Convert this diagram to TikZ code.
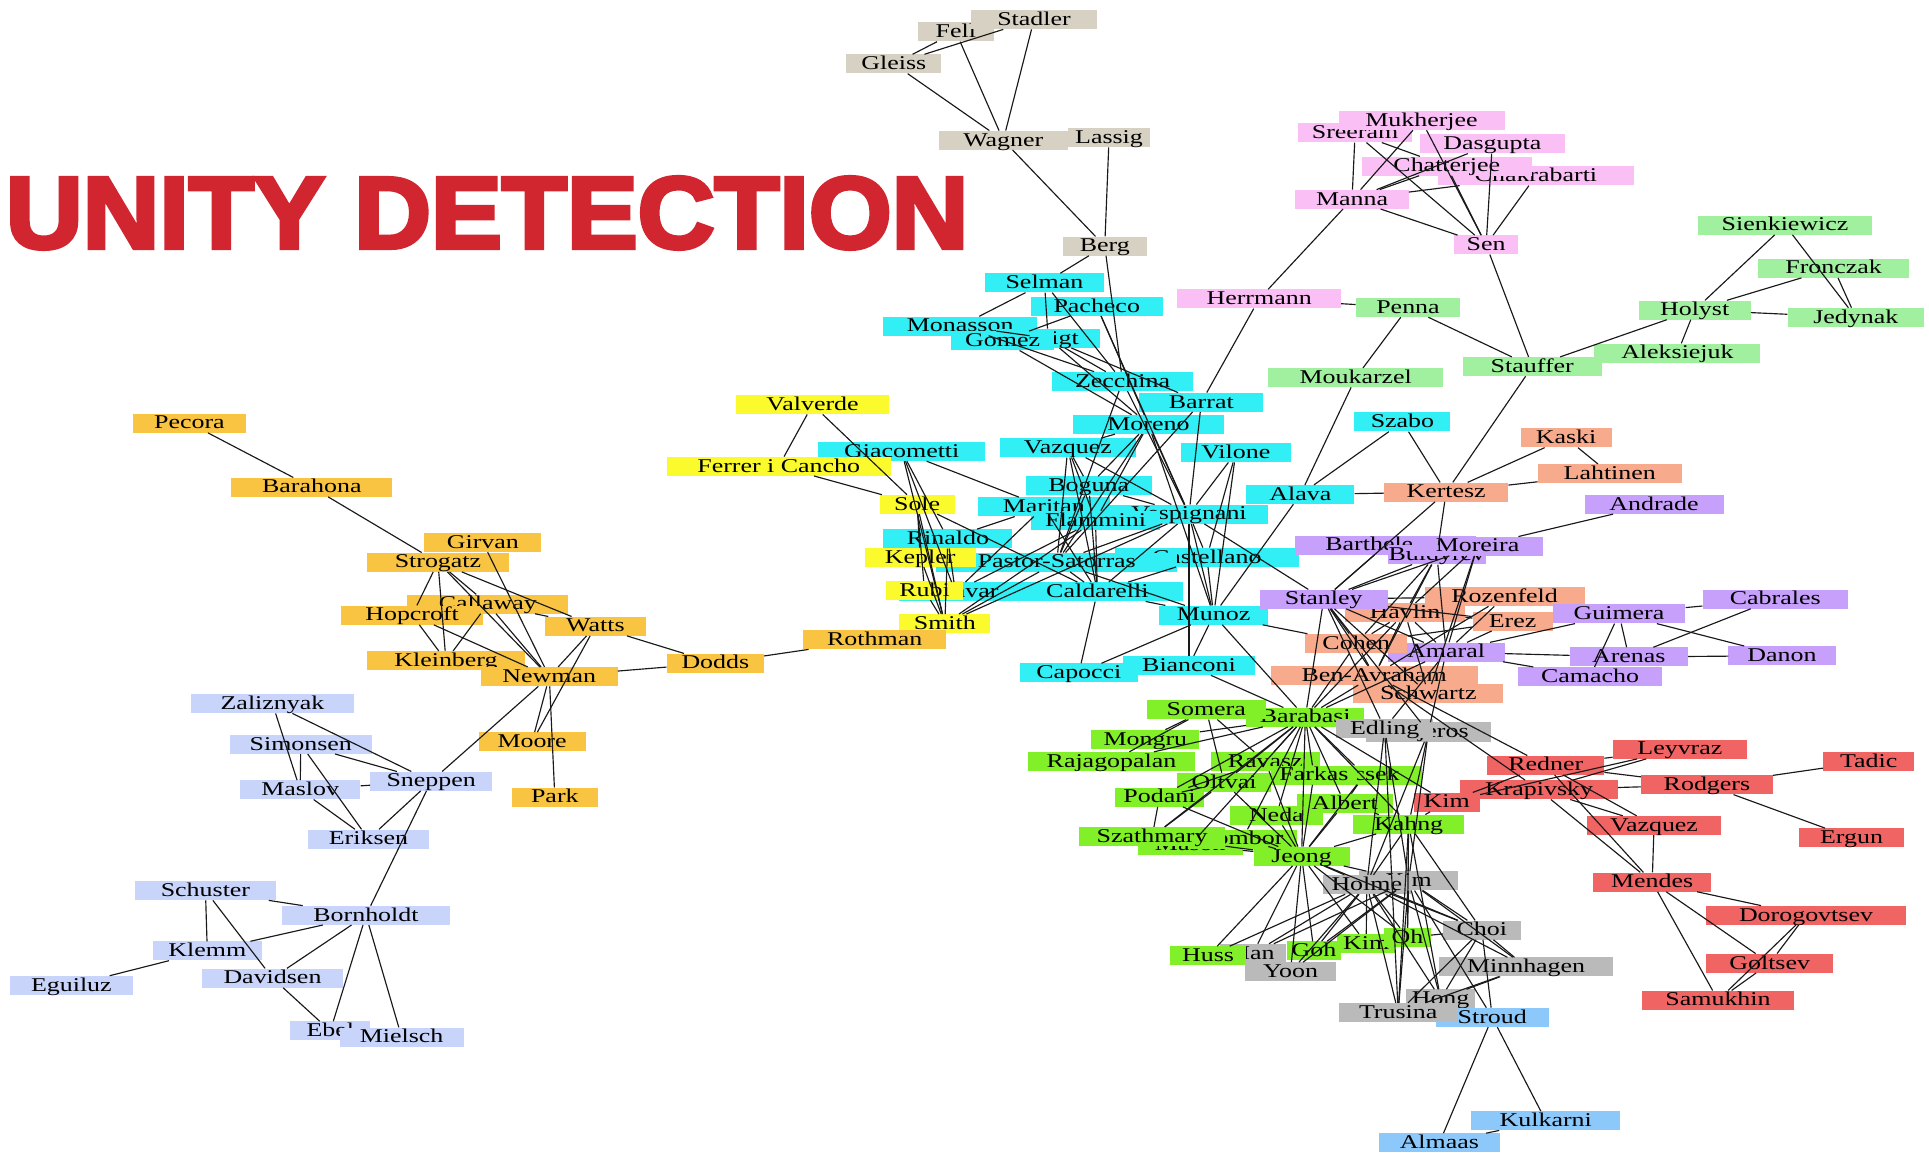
\documentclass[tikz,border=0pt]{standalone}
\usepackage{graphicx}
\usepackage{fontspec}
\setmainfont{Liberation Serif}[FakeStretch=1.33]
\newfontfamily\titlefont{Liberation Sans}[FakeBold=4]

% community colours
\definecolor{ctan}{RGB}{214,209,194}
\definecolor{cpink}{RGB}{250,192,245}
\definecolor{cmint}{RGB}{160,240,160}
\definecolor{ccyan}{RGB}{50,238,245}
\definecolor{cyel}{RGB}{250,250,45}
\definecolor{corange}{RGB}{248,196,66}
\definecolor{clav}{RGB}{200,212,250}
\definecolor{csalmon}{RGB}{248,170,140}
\definecolor{cpurple}{RGB}{198,160,250}
\definecolor{clime}{RGB}{130,240,40}
\definecolor{cgrey}{RGB}{186,186,186}
\definecolor{cblue}{RGB}{140,200,250}
\definecolor{cred}{RGB}{240,100,100}
\definecolor{titlered}{RGB}{209,38,48}

\tikzset{
  box/.style={rectangle, inner xsep=0pt, inner ysep=0.25pt, minimum height=19pt,
    text height=15pt, text depth=3.5pt, text=black,
    font=\fontsize{19.5pt}{20pt}\selectfont},
  edge/.style={draw=black!90, line width=1.15pt},
}

% \netnode{name}{colour}{left}{right}{y}{label}
\newcommand\netnode[6]{%
  \node[box, fill=#2, minimum width={(#4-#3)*1.2302pt}] (#1) at ({(#3+#4)/2},#5) {#6};}

\begin{document}
\begin{tikzpicture}[x=1.2302pt, y=-1.2302pt]
\useasboundingbox (0,0) rectangle (1568,937);
\fill[white] (0,0) rectangle (1568,937);

% title
\node[anchor=base west, inner sep=0pt, text=titlered] (title) at (4.6,201.6)
  {\resizebox{962pt}{71pt}{\titlefont\bfseries UNITY DETECTION}};

% ---------- tan community ----------
\netnode{gleiss}{ctan}{688}{765}{52}{Gleiss}
\netnode{fell}{ctan}{746}{808}{26}{Fell}
\netnode{stadler}{ctan}{789}{892}{16}{Stadler}
\netnode{wagner}{ctan}{763}{868}{114}{Wagner}
\netnode{lassig}{ctan}{868}{935}{112}{Lassig}
\netnode{berg}{ctan}{864}{932}{200}{Berg}

% ---------- pink community ----------
\netnode{sreeram}{cpink}{1055}{1148}{108}{Sreeram}
\netnode{mukherjee}{cpink}{1088}{1223}{98}{Mukherjee}
\netnode{dasgupta}{cpink}{1154}{1272}{117}{Dasgupta}
\netnode{chakrabarti}{cpink}{1169}{1328}{143}{Chakrabarti}
\netnode{chatterjee}{cpink}{1107}{1245}{135}{Chatterjee}
\netnode{manna}{cpink}{1053}{1145}{162}{Manna}
\netnode{sen}{cpink}{1182}{1234}{199}{Sen}
\netnode{herrmann}{cpink}{957}{1090}{243}{Herrmann}

% ---------- mint community ----------
\netnode{penna}{cmint}{1102}{1187}{250}{Penna}
\netnode{moukarzel}{cmint}{1031}{1173}{307}{Moukarzel}
\netnode{stauffer}{cmint}{1189}{1302}{298}{Stauffer}
\netnode{sienkiewicz}{cmint}{1380}{1522}{183}{Sienkiewicz}
\netnode{fronczak}{cmint}{1429}{1552}{218}{Fronczak}
\netnode{holyst}{cmint}{1332}{1423}{252}{Holyst}
\netnode{jedynak}{cmint}{1453}{1564}{258}{Jedynak}
\netnode{aleksiejuk}{cmint}{1296}{1431}{287}{Aleksiejuk}

% ---------- cyan community ----------
\netnode{selman}{ccyan}{801}{897}{230}{Selman}
\netnode{pacheco}{ccyan}{838}{945}{249}{Pacheco}
\netnode{monasson}{ccyan}{718}{843}{265}{Monasson}
\netnode{weigt}{ccyan}{810}{894}{275}{Weigt}
\netnode{gomez}{ccyan}{773}{857}{277}{Gomez}
\netnode{zecchina}{ccyan}{855}{970}{310}{Zecchina}
\netnode{barrat}{ccyan}{926}{1027}{327}{Barrat}
\netnode{moreno}{ccyan}{872}{995}{345}{Moreno}
\netnode{giacometti}{ccyan}{665}{801}{367}{Giacometti}
\netnode{vazquezc}{ccyan}{813}{923}{364}{Vazquez}
\netnode{vilone}{ccyan}{960}{1049}{368}{Vilone}
\netnode{boguna}{ccyan}{834}{936}{395}{Boguna}
\netnode{vespignani}{ccyan}{902}{1031}{418}{Vespignani}
\netnode{maritan}{ccyan}{795}{902}{412}{Maritan}
\netnode{flammini}{ccyan}{838}{943}{423}{Flammini}
\netnode{alava}{ccyan}{1013}{1101}{402}{Alava}
\netnode{szabo}{ccyan}{1101}{1179}{343}{Szabo}
\netnode{rinaldo}{ccyan}{718}{823}{438}{Rinaldo}
\netnode{castellano}{ccyan}{906}{1056}{453}{Castellano}
\netnode{pastor}{ccyan}{761}{957}{457}{Pastor-Satorras}
\netnode{banavar}{ccyan}{731}{822}{481}{Banavar}
\netnode{caldarelli}{ccyan}{822}{962}{481}{Caldarelli}
\netnode{munoz}{ccyan}{942}{1031}{500}{Munoz}
\netnode{capocci}{ccyan}{829}{925}{547}{Capocci}
\netnode{bianconi}{ccyan}{913}{1020}{541}{Bianconi}

% ---------- yellow community ----------
\netnode{valverde}{cyel}{598}{723}{329}{Valverde}
\netnode{ferrer}{cyel}{542}{724}{379}{Ferrer i Cancho}
\netnode{sole}{cyel}{715}{776}{410}{Sole}
\netnode{kepler}{cyel}{703}{793}{453}{Kepler}
\netnode{rubi}{cyel}{720}{783}{480}{Rubi}
\netnode{smith}{cyel}{731}{805}{507}{Smith}

% ---------- orange community ----------
\netnode{pecora}{corange}{108}{200}{344}{Pecora}
\netnode{barahona}{corange}{188}{319}{396}{Barahona}
\netnode{girvan}{corange}{345}{440}{441}{Girvan}
\netnode{strogatz}{corange}{298}{414}{457}{Strogatz}
\netnode{callaway}{corange}{331}{462}{491}{Callaway}
\netnode{hopcroft}{corange}{277}{393}{500}{Hopcroft}
\netnode{watts}{corange}{443}{525}{509}{Watts}
\netnode{kleinberg}{corange}{298}{427}{537}{Kleinberg}
\netnode{newman}{corange}{391}{502}{550}{Newman}
\netnode{dodds}{corange}{542}{621}{539}{Dodds}
\netnode{rothman}{corange}{653}{769}{520}{Rothman}
\netnode{moore}{corange}{389}{476}{603}{Moore}
\netnode{park}{corange}{416}{486}{648}{Park}

% ---------- lavender community ----------
\netnode{zaliznyak}{clav}{155}{288}{572}{Zaliznyak}
\netnode{simonsen}{clav}{187}{302}{605}{Simonsen}
\netnode{maslov}{clav}{195}{293}{642}{Maslov}
\netnode{sneppen}{clav}{301}{400}{635}{Sneppen}
\netnode{eriksen}{clav}{250}{349}{682}{Eriksen}
\netnode{schuster}{clav}{110}{224}{724}{Schuster}
\netnode{bornholdt}{clav}{229}{366}{744}{Bornholdt}
\netnode{klemm}{clav}{124}{213}{773}{Klemm}
\netnode{eguiluz}{clav}{8}{108}{801}{Eguiluz}
\netnode{davidsen}{clav}{164}{279}{795}{Davidsen}
\netnode{ebel}{clav}{236}{301}{838}{Ebel}
\netnode{mielsch}{clav}{276}{377}{843}{Mielsch}

% ---------- salmon and purple communities ----------
\netnode{kaski}{csalmon}{1236}{1310}{356}{Kaski}
\netnode{lahtinen}{csalmon}{1250}{1367}{385}{Lahtinen}
\netnode{kertesz}{csalmon}{1125}{1226}{400}{Kertesz}
\netnode{andrade}{cpurple}{1288}{1401}{410}{Andrade}
\netnode{barthelemy}{cpurple}{1053}{1200}{443}{Barthelemy}
\netnode{buldyrev}{cpurple}{1128}{1208}{451}{Buldyrev}
\netnode{moreira}{cpurple}{1148}{1254}{444}{Moreira}
\netnode{rozenfeld}{csalmon}{1158}{1288}{485}{Rozenfeld}
\netnode{havlin}{csalmon}{1093}{1191}{498}{Havlin}
\netnode{erez}{csalmon}{1197}{1262}{505}{Erez}
\netnode{stanley}{cpurple}{1024}{1128}{487}{Stanley}
\netnode{guimera}{cpurple}{1262}{1370}{499}{Guimera}
\netnode{cabrales}{cpurple}{1384}{1502}{487}{Cabrales}
\netnode{amaral}{cpurple}{1128}{1223}{530}{Amaral}
\netnode{cohen}{csalmon}{1061}{1144}{523}{Cohen}
\netnode{benavraham}{csalmon}{1033}{1201}{549}{Ben-Avraham}
\netnode{schwartz}{csalmon}{1100}{1222}{564}{Schwartz}
\netnode{arenas}{cpurple}{1276}{1372}{534}{Arenas}
\netnode{danon}{cpurple}{1405}{1492}{533}{Danon}
\netnode{camacho}{cpurple}{1234}{1351}{550}{Camacho}

% ---------- lime community ----------
\netnode{barabasi}{clime}{1013}{1109}{583}{Barabasi}
\netnode{somera}{clime}{932}{1029}{577}{Somera}
\netnode{liljeros}{cgrey}{1110}{1212}{595}{Liljeros}
\netnode{edling}{cgrey}{1086}{1165}{592}{Edling}
\netnode{mongru}{clime}{887}{975}{601}{Mongru}
\netnode{rajagopalan}{clime}{836}{971}{619}{Rajagopalan}
\netnode{ravasz}{clime}{984}{1073}{619}{Ravasz}
\netnode{oltvai}{clime}{957}{1033}{636}{Oltvai}
\netnode{vicsek}{clime}{1062}{1156}{630}{Vicsek}
\netnode{farkas}{clime}{1033}{1103}{630}{Farkas}
\netnode{podani}{clime}{906}{979}{648}{Podani}
\netnode{neda}{clime}{1000}{1075}{663}{Neda}
\netnode{albert}{clime}{1054}{1132}{653}{Albert}
\netnode{kahng}{clime}{1100}{1190}{670}{Kahng}
\netnode{mason}{clime}{925}{1010}{687}{Mason}
\netnode{tombor}{clime}{966}{1054}{682}{Tombor}
\netnode{szathmary}{clime}{877}{996}{680}{Szathmary}
\netnode{jeong}{clime}{1019}{1097}{696}{Jeong}

% ---------- grey community and its neighbours ----------
\netnode{kimgr}{cgrey}{1105}{1185}{716}{Kim}
\netnode{holme}{cgrey}{1075}{1147}{719}{Holme}
\netnode{choi}{cgrey}{1173}{1236}{756}{Choi}
\netnode{han}{cgrey}{992}{1045}{775}{Han}
\netnode{huss}{clime}{951}{1013}{777}{Huss}
\netnode{goh}{clime}{1046}{1090}{773}{Goh}
\netnode{kimg}{clime}{1087}{1134}{767}{Kim}
\netnode{oh}{clime}{1125}{1163}{762}{Oh}
\netnode{yoon}{cgrey}{1012}{1086}{790}{Yoon}
\netnode{minnhagen}{cgrey}{1170}{1311}{786}{Minnhagen}
\netnode{hong}{cgrey}{1143}{1199}{812}{Hong}
\netnode{stroud}{cblue}{1167}{1259}{827}{Stroud}
\netnode{trusina}{cgrey}{1088}{1185}{823}{Trusina}
\netnode{kulkarni}{cblue}{1196}{1317}{911}{Kulkarni}
\netnode{almaas}{cblue}{1121}{1219}{929}{Almaas}

% ---------- red community ----------
\netnode{leyvraz}{cred}{1311}{1420}{609}{Leyvraz}
\netnode{tadic}{cred}{1482}{1556}{619}{Tadic}
\netnode{redner}{cred}{1209}{1304}{622}{Redner}
\netnode{rodgers}{cred}{1334}{1441}{638}{Rodgers}
\netnode{krapivsky}{cred}{1187}{1315}{642}{Krapivsky}
\netnode{kimr}{cred}{1149}{1203}{652}{Kim}
\netnode{vazquezr}{cred}{1290}{1399}{671}{Vazquez}
\netnode{ergun}{cred}{1462}{1548}{681}{Ergun}
\netnode{mendes}{cred}{1295}{1391}{717}{Mendes}
\netnode{dorogovtsev}{cred}{1387}{1549}{744}{Dorogovtsev}
\netnode{goltsev}{cred}{1387}{1490}{783}{Goltsev}
\netnode{samukhin}{cred}{1335}{1458}{813}{Samukhin}

% ---------- collaborations ----------
\foreach \a/\b in {
  gleiss/fell, gleiss/stadler, gleiss/wagner, fell/wagner, stadler/wagner,
  wagner/berg, lassig/berg, berg/selman, berg/zecchina,
  sreeram/manna, mukherjee/manna, sreeram/sen, sreeram/chatterjee, mukherjee/sen,
  dasgupta/sen, chakrabarti/sen, chatterjee/sen, manna/sen, manna/chatterjee,
  manna/dasgupta, manna/chakrabarti, herrmann/manna, herrmann/penna, herrmann/barrat,
  sen/stauffer,
  penna/stauffer, penna/moukarzel, stauffer/holyst, holyst/sienkiewicz, holyst/fronczak,
  holyst/jedynak, holyst/aleksiejuk, sienkiewicz/jedynak, fronczak/jedynak,
  stauffer/kertesz, moukarzel/alava,
  selman/monasson, selman/zecchina, selman/weigt, monasson/weigt, monasson/zecchina,
  weigt/zecchina, weigt/barrat, weigt/moreno, gomez/pacheco, gomez/moreno,
  pacheco/moreno, pacheco/vespignani, zecchina/vespignani, zecchina/pastor,
  barrat/vespignani, barrat/pastor, moreno/vespignani, moreno/pastor, moreno/vazquezc,
  moreno/boguna, moreno/flammini, moreno/munoz, vazquezc/boguna, vazquezc/vespignani,
  vazquezc/caldarelli, vazquezc/pastor, vazquezc/flammini, boguna/pastor,
  boguna/vespignani, boguna/caldarelli, giacometti/maritan, giacometti/rinaldo,
  giacometti/banavar, giacometti/smith, maritan/rinaldo, maritan/banavar,
  maritan/caldarelli, flammini/caldarelli, flammini/banavar, flammini/smith,
  vespignani/castellano, vespignani/pastor, vespignani/caldarelli, vespignani/munoz,
  vespignani/bianconi, vespignani/vilone, vespignani/stanley, vespignani/smith,
  castellano/munoz, castellano/vilone, castellano/caldarelli, pastor/caldarelli,
  pastor/smith, pastor/munoz, caldarelli/munoz, caldarelli/capocci, munoz/bianconi,
  munoz/capocci, munoz/alava, munoz/vilone, munoz/barabasi, munoz/cohen,
  bianconi/barabasi, alava/szabo, alava/kertesz, szabo/kertesz, rinaldo/banavar,
  sole/valverde, sole/ferrer, valverde/ferrer, sole/kepler, sole/rubi, sole/smith,
  kepler/smith, rubi/smith, sole/caldarelli, rinaldo/smith,
  pecora/barahona, barahona/strogatz, girvan/newman, strogatz/hopcroft,
  strogatz/kleinberg, strogatz/callaway, strogatz/watts, strogatz/newman,
  hopcroft/kleinberg, hopcroft/newman, callaway/kleinberg, callaway/newman,
  callaway/watts, watts/newman, watts/moore, watts/dodds, newman/dodds, newman/moore,
  newman/park, newman/sneppen, dodds/rothman,
  zaliznyak/maslov, zaliznyak/sneppen, simonsen/maslov, simonsen/sneppen,
  simonsen/eriksen, maslov/sneppen, maslov/eriksen, sneppen/eriksen, sneppen/bornholdt,
  schuster/klemm, schuster/davidsen, schuster/bornholdt, klemm/bornholdt, klemm/eguiluz,
  davidsen/bornholdt, davidsen/ebel, bornholdt/ebel, bornholdt/mielsch,
  kaski/kertesz, lahtinen/kertesz, kaski/lahtinen, kertesz/stanley, kertesz/buldyrev,
  andrade/moreira, guimera/cabrales, guimera/arenas, guimera/camacho, guimera/danon,
  cabrales/arenas, arenas/danon, amaral/arenas, amaral/camacho, amaral/guimera,
  stanley/barthelemy, stanley/moreira, stanley/buldyrev, stanley/rozenfeld, stanley/erez,
  stanley/cohen, stanley/amaral, stanley/benavraham, stanley/schwartz, stanley/barabasi,
  stanley/liljeros, stanley/edling, buldyrev/havlin, buldyrev/cohen, buldyrev/amaral,
  buldyrev/benavraham, moreira/amaral, moreira/schwartz, moreira/havlin, havlin/cohen,
  havlin/benavraham, havlin/erez, havlin/schwartz, havlin/amaral, cohen/erez,
  cohen/benavraham, rozenfeld/benavraham, rozenfeld/amaral, erez/amaral,
  amaral/barabasi, amaral/liljeros, amaral/edling, benavraham/redner,
  benavraham/krapivsky, cohen/barabasi, havlin/barabasi, benavraham/barabasi,
  barabasi/mongru, barabasi/rajagopalan, barabasi/ravasz, barabasi/oltvai,
  barabasi/farkas, barabasi/vicsek, barabasi/podani, barabasi/neda, barabasi/albert,
  barabasi/kahng, barabasi/szathmary, barabasi/tombor, barabasi/mason, barabasi/jeong,
  barabasi/kimr, somera/ravasz, somera/oltvai, somera/mongru, somera/rajagopalan,
  oltvai/podani, oltvai/jeong, oltvai/szathmary, ravasz/podani, ravasz/jeong,
  podani/jeong, podani/szathmary, szathmary/jeong, tombor/jeong, mason/jeong,
  albert/jeong, albert/kahng, jeong/kahng, jeong/farkas, vicsek/albert, vicsek/jeong,
  neda/jeong,
  jeong/huss, jeong/han, jeong/goh, jeong/yoon, jeong/kimg, jeong/oh, jeong/holme,
  jeong/kimgr, jeong/choi,
  holme/huss, holme/han, holme/goh, holme/yoon, holme/kimg, holme/oh, holme/trusina,
  holme/hong, holme/choi, holme/minnhagen,
  kimgr/choi, kimgr/minnhagen, kimgr/hong, kimgr/trusina, kimgr/stroud, kimgr/han,
  kimgr/goh, kimgr/yoon, kimgr/oh,
  kahng/kimr, kahng/holme, kahng/kimgr, kahng/choi, kahng/hong, kahng/trusina, kahng/oh,
  choi/minnhagen, choi/hong, choi/trusina, choi/oh, choi/stroud,
  minnhagen/hong, minnhagen/trusina,
  edling/holme, edling/kimgr, liljeros/holme, liljeros/kimgr, liljeros/kahng,
  edling/trusina,
  stroud/almaas, stroud/kulkarni, almaas/kulkarni,
  kimr/redner, kimr/leyvraz, redner/leyvraz, krapivsky/leyvraz, redner/rodgers,
  krapivsky/rodgers, krapivsky/vazquezr, redner/vazquezr, krapivsky/mendes,
  redner/mendes, vazquezr/mendes, rodgers/tadic, rodgers/ergun, mendes/dorogovtsev,
  mendes/goltsev, mendes/samukhin, dorogovtsev/goltsev, dorogovtsev/samukhin,
  goltsev/samukhin}
  \draw[edge] (\a) -- (\b);
\end{tikzpicture}
\end{document}
